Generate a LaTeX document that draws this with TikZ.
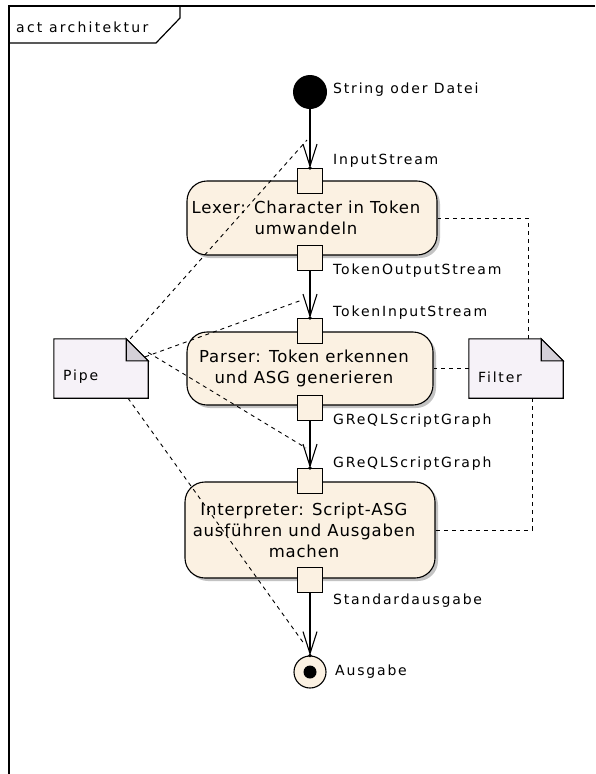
\documentclass[tikz,border=0pt]{standalone}
\usepackage{fontspec}
\setmainfont{DejaVu Sans}
\newfontfamily\lblfont{DejaVu Sans}[LetterSpace=13]
\newfontfamily\titlefont{DejaVu Sans}[LetterSpace=16]
\newfontfamily\actfont{DejaVu Sans}[LetterSpace=5]
\usetikzlibrary{arrows.meta,shadows,calc}
\definecolor{actfill}{RGB}{251,241,226}
\definecolor{notefill}{RGB}{246,242,248}
\definecolor{foldfill}{RGB}{212,208,216}
\definecolor{shade}{RGB}{195,195,195}
\begin{document}
\begin{tikzpicture}[x=1pt,y=-1pt,
  action/.style={draw, line width=1.1pt, fill=actfill, rounded corners=20pt,
    drop shadow={shadow xshift=3pt, shadow yshift=-3pt, fill=shade, opacity=1},
    inner sep=0pt},
  acttext/.style={align=center, inner sep=0pt, font=\actfont\fontsize{16.5}{21}\selectfont},
  pinbox/.style={draw, line width=1.1pt, fill=actfill, minimum size=25pt, inner sep=0pt},
  lbl/.style={anchor=west, inner sep=0pt, font=\lblfont\fontsize{14}{16}\selectfont},
  flow/.style={line width=1.1pt, -{Straight Barb[length=22pt,width=14pt]}},
  link/.style={line width=0.9pt, dash pattern=on 4pt off 4pt},
  notearea/.style={minimum width=94pt, minimum height=59pt, inner sep=0pt},
  noteline/.style={draw, line width=1.1pt, fill=notefill},
  frameline/.style={line width=1.2pt}
]
\useasboundingbox (0,0) rectangle (595,774);

% diagram frame with its name tab
\draw[frameline] (9,774) -- (9,6) -- (595,6);
\draw[frameline] (9,43) -- (156,43) -- (180,18) -- (180,6);
\node[lbl, font=\titlefont\fontsize{14}{16}\selectfont] (title) at (16,27) {act architektur};

% actions
\node[action, minimum width=250pt, minimum height=74pt] (lexer) at (312,218) {};
\node[acttext] (lexertxt) at ($(lexer)+(-6,0)$) {Lexer: Character in Token\\umwandeln};
\node[action, minimum width=246pt, minimum height=73pt] (parser) at (310,368.5) {};
\node[acttext] (parsertxt) at ($(parser)+(-6,0)$) {Parser: Token erkennen\\und ASG generieren};
\node[action, minimum width=250pt, minimum height=96pt] (interp) at (310,530) {};
\node[acttext] (interptxt) at ($(interp)+(-6,0)$) {Interpreter: Script-ASG\\ausführen und Ausgaben\\machen};

% pins
\node[pinbox] (in1)  at (310,181) {};
\node[pinbox] (out1) at (310,258) {};
\node[pinbox] (in2)  at (310,331) {};
\node[pinbox] (out2) at (310,408) {};
\node[pinbox] (in3)  at (310,481) {};
\node[pinbox] (out3) at (310,580) {};

% start and end nodes
\node[circle, fill=black, minimum size=34pt, inner sep=0pt] (start) at (310,92) {};
\node[circle, draw, line width=1.1pt, fill=actfill, minimum size=32pt, inner sep=0pt] (final) at (310,672) {};
\node[circle, fill=black, minimum size=13pt, inner sep=0pt] (finaldot) at (final) {};

% labels
\node[lbl] (lstart) at (333,90)  {String oder Datei};
\node[lbl] (lin1)   at (333,161) {InputStream};
\node[lbl] (lout1)  at (333,271) {TokenOutputStream};
\node[lbl] (lin2)   at (333,313) {TokenInputStream};
\node[lbl] (lout2)  at (333,421) {GReQLScriptGraph};
\node[lbl] (lin3)   at (333,464) {GReQLScriptGraph};
\node[lbl] (lout3)  at (333,601) {Standardausgabe};
\node[lbl] (lfinal) at (335,672) {Ausgabe};

% object flows
\draw[flow] (start) -- (in1);
\draw[flow] (out1) -- (in2);
\draw[flow] (out2) -- (in3);
\draw[flow] (out3) -- (final);
\foreach \p in {in1,in2,in3} \fill (\p.north) circle (1.8pt);
\fill (final.north) circle (1.8pt);

% notes
\node[notearea] (pipe) at (101,368.5) {};
\path[noteline] (pipe.north west) -- ([xshift=-22pt]pipe.north east)
  -- ([yshift=-22pt]pipe.north east) -- (pipe.south east) -- (pipe.south west) -- cycle;
\filldraw[line width=1.1pt, fill=foldfill] ([xshift=-22pt]pipe.north east)
  -- ([xshift=-22pt,yshift=-22pt]pipe.north east) -- ([yshift=-22pt]pipe.north east) -- cycle;
\node[lbl] (pipetxt) at (63,377) {Pipe};

\node[notearea] (filter) at (516,368.5) {};
\path[noteline] (filter.north west) -- ([xshift=-22pt]filter.north east)
  -- ([yshift=-22pt]filter.north east) -- (filter.south east) -- (filter.south west) -- cycle;
\filldraw[line width=1.1pt, fill=foldfill] ([xshift=-22pt]filter.north east)
  -- ([xshift=-22pt,yshift=-22pt]filter.north east) -- ([yshift=-22pt]filter.north east) -- cycle;
\node[lbl] (filtertxt) at (478,377) {Filter};

% points on the flows where the pipe note attaches
\coordinate (tap1) at (307,140);
\coordinate (tap2) at (302,300);
\coordinate (tap3) at (306,448);
\coordinate (tap4) at (305,645);

% note attachments
\draw[link] ([xshift=-18pt]pipe.north east) -- (tap1);
\draw[link] ([xshift=-3pt,yshift=-18pt]pipe.north east) -- (tap2);
\draw[link] ([yshift=16pt]pipe.east) -- (tap3);
\draw[link] ([xshift=27pt]pipe.south) -- (tap4);

\draw[link] ([xshift=12pt]filter.north) |- (lexer.east);
\draw[link] (filter.west) -- (parser.east);
\draw[link] ([xshift=16pt]filter.south) |- (interp.east);
\end{tikzpicture}
\end{document}
